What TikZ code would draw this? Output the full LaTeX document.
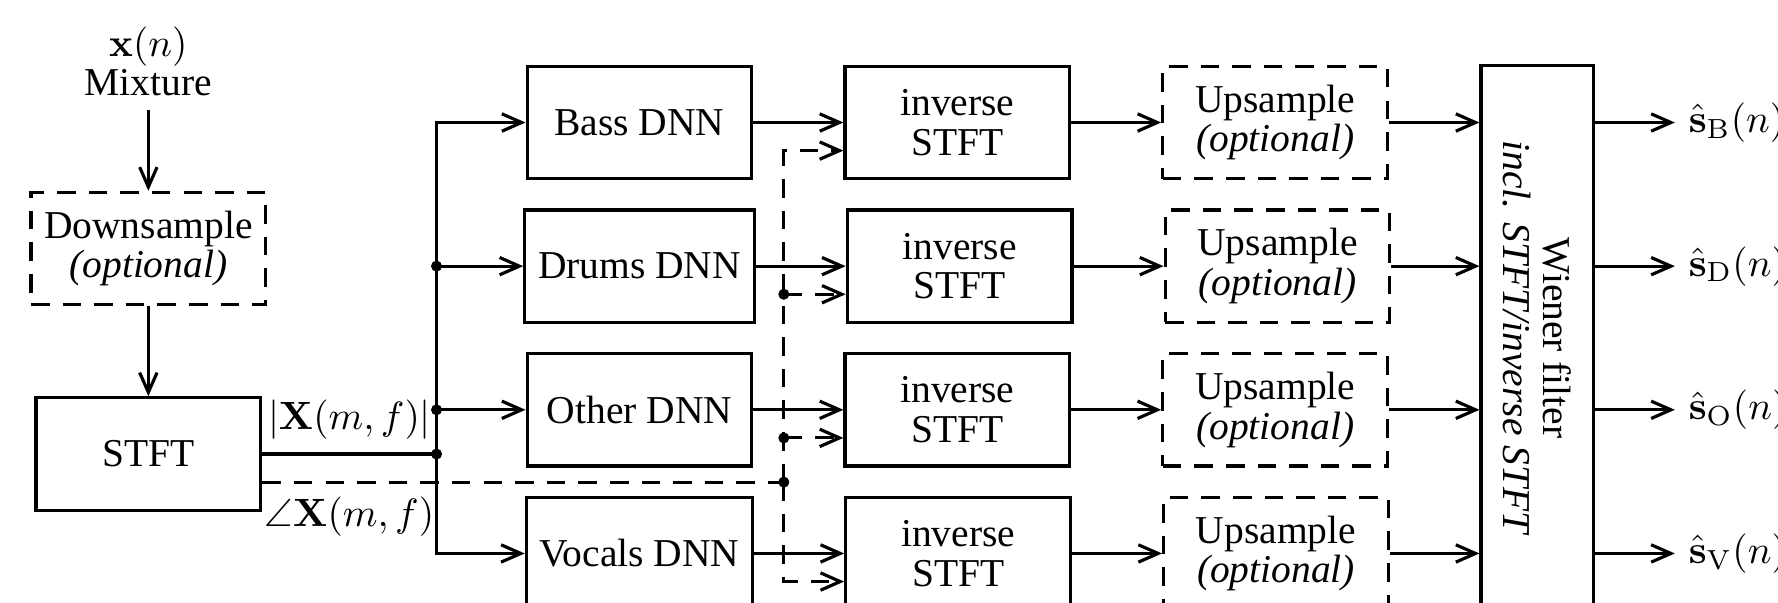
\documentclass[tikz,border=0pt]{standalone}
\usepackage{amsmath}
\usepackage{amssymb}
\usepackage[no-math]{fontspec}
\setmainfont{Liberation Serif}
\usepackage{tikz}
\usetikzlibrary{arrows.meta,calc,positioning}

\tikzset{
  block/.style={draw, thick, minimum width=2cm, minimum height=1cm, align=center},
  optblock/.style={block, dash pattern=on 4.7pt off 3.3pt},
  sig/.style={thick},
  phase/.style={thick, dash pattern=on 4.7pt off 3.3pt},
}

\begin{document}
\begin{tikzpicture}[>={Straight Barb[length=5pt,width=4.4pt]},
    every node/.style={font=\fontsize{10}{10}\selectfont}]
    \useasboundingbox (0,0) rectangle (15.82,-5.365);
    \clip (0,0) rectangle (15.82,-5.365);

    % Mixture input
    \node[block] (stft) at (1.32,-4.04) {STFT};
    \node[optblock, above=0.8cm of stft] (down) {Downsample\\\textit{(optional)}};
    \node[align=center, above=0.72cm of down] (mix) {$\mathbf{x}(n)$\\Mixture};

    % one row per source
    \node[block] (bass) at (5.69,-1.09) {Bass DNN};
    \node[block, below=0.25cm of bass] (drums) {Drums DNN};
    \node[block, below=0.25cm of drums] (other) {Other DNN};
    \node[block, below=0.25cm of other] (vocals) {Vocals DNN};

    \node[block, right=0.8cm of bass] (istft1) {inverse\\STFT};
    \node[block, right=0.8cm of drums] (istft2) {inverse\\STFT};
    \node[block, right=0.8cm of other] (istft3) {inverse\\STFT};
    \node[block, right=0.8cm of vocals] (istft4) {inverse\\STFT};

    \node[optblock, right=0.8cm of istft1] (up1) {Upsample\\\textit{(optional)}};
    \node[optblock, right=0.8cm of istft2] (up2) {Upsample\\\textit{(optional)}};
    \node[optblock, right=0.8cm of istft3] (up3) {Upsample\\\textit{(optional)}};
    \node[optblock, right=0.8cm of istft4] (up4) {Upsample\\\textit{(optional)}};

    % Wiener filter (text turned)
    \coordinate (upmid) at ($(up1.east)!0.5!(up4.east)$);
    \node[block, minimum width=1cm, minimum height=4.85cm, right=0.8cm of upmid] (wiener) {};
    \node[rotate=-90, align=center] (wienertxt) at (wiener)
         {Wiener filter\\\textit{incl. STFT/inverse STFT}};

    % estimates
    \node[anchor=west] (sB) at ($(wiener.east |- up1)+(0.71,0)$) {$\hat{\mathbf{s}}_{\mathrm{B}}(n)$};
    \node[anchor=west] (sD) at ($(wiener.east |- up2)+(0.71,0)$) {$\hat{\mathbf{s}}_{\mathrm{D}}(n)$};
    \node[anchor=west] (sO) at ($(wiener.east |- up3)+(0.71,0)$) {$\hat{\mathbf{s}}_{\mathrm{O}}(n)$};
    \node[anchor=west] (sV) at ($(wiener.east |- up4)+(0.71,0)$) {$\hat{\mathbf{s}}_{\mathrm{V}}(n)$};

    \draw[sig,->] (mix) -- (down);
    \draw[sig,->] (down) -- (stft);

    % magnitude to the DNNs
    \coordinate (junc) at ($(stft.east)+(1.55,0)$);
    \draw[sig] (stft) -- node[above] (maglabel) {$|\mathbf{X}(m,f)|$} (junc);
    \draw[sig,->] (junc) |- (bass);
    \draw[sig,->] (junc |- drums) -- (drums);
    \draw[sig,->] (junc |- other) -- (other);
    \draw[sig,->] (junc) |- (vocals);
    \fill (junc) circle (1.4pt);
    \fill (junc |- drums) circle (1.4pt);
    \fill (junc |- other) circle (1.4pt);

    % phase to the inverse STFTs
    \coordinate (ph1) at ([yshift=-0.25cm]istft1.west);
    \coordinate (ph2) at ([yshift=-0.25cm]istft2.west);
    \coordinate (ph3) at ([yshift=-0.25cm]istft3.west);
    \coordinate (ph4) at ([yshift=-0.25cm]istft4.west);
    \coordinate (pjunc) at ($(ph1 |- stft.east)+(-0.53,-0.25)$);
    \draw[phase] (stft.east |- pjunc) -- node[below, pos=0.167] (phaselabel) {$\angle\mathbf{X}(m,f)$} (pjunc);
    \draw[phase,->] (pjunc) |- (ph1);
    \draw[phase,->] (pjunc |- ph2) -- (ph2);
    \draw[phase,->] (pjunc |- ph3) -- (ph3);
    \draw[phase,->] (pjunc) |- (ph4);
    \fill (pjunc) circle (1.4pt);
    \fill (pjunc |- ph2) circle (1.4pt);
    \fill (pjunc |- ph3) circle (1.4pt);

    % rows
    \draw[sig,->] (bass) -- (istft1);
    \draw[sig,->] (drums) -- (istft2);
    \draw[sig,->] (other) -- (istft3);
    \draw[sig,->] (vocals) -- (istft4);
    \draw[sig,->] (istft1) -- (up1);
    \draw[sig,->] (istft2) -- (up2);
    \draw[sig,->] (istft3) -- (up3);
    \draw[sig,->] (istft4) -- (up4);
    \draw[sig,->] (up1) -- (up1 -| wiener.west);
    \draw[sig,->] (up2) -- (up2 -| wiener.west);
    \draw[sig,->] (up3) -- (up3 -| wiener.west);
    \draw[sig,->] (up4) -- (up4 -| wiener.west);
    \draw[sig,->] (wiener.east |- sB) -- (sB);
    \draw[sig,->] (wiener.east |- sD) -- (sD);
    \draw[sig,->] (wiener.east |- sO) -- (sO);
    \draw[sig,->] (wiener.east |- sV) -- (sV);
\end{tikzpicture}
\end{document}
